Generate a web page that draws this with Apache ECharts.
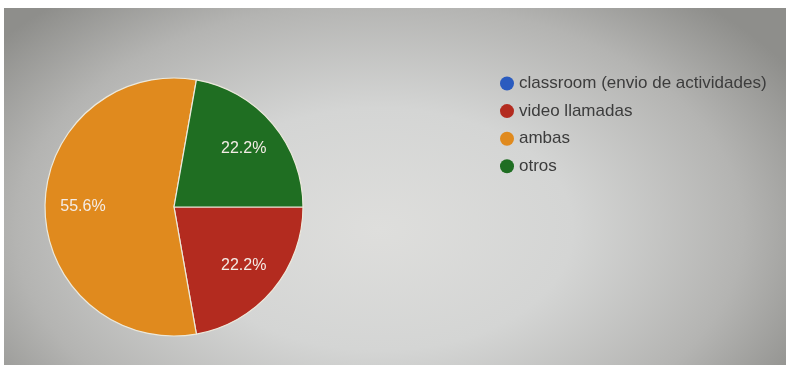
<!DOCTYPE html>
<html>
<head>
<meta charset="utf-8">
<script src="https://cdn.jsdelivr.net/npm/echarts@6/dist/echarts.min.js"></script>
<style>
  html, body { margin: 0; padding: 0; background: #ffffff; }
  #frame {
    position: absolute; left: 4px; top: 8px; width: 782px; height: 357px;
    background:
      radial-gradient(ellipse 62% 85% at 48% 62%, rgba(222,222,220,1) 0%, rgba(212,213,212,1) 40%, rgba(180,180,178,1) 75%, rgba(142,142,139,1) 100%);
  }
  #chart { position: absolute; left: 0; top: 0; width: 790px; height: 368px; }
</style>
</head>
<body>
<div id="frame"></div>
<div id="chart"></div>
<script>
  // Responses per option
  const categories = ['classroom (envio de actividades)', 'video llamadas', 'ambas', 'otros'];
  const counts = [0, 2, 5, 2];
  const colors = ['#2a5bbf', '#b32b1f', '#e08a1e', '#1f6e22'];

  const sliceData = categories.map((name, i) => ({
    name: name,
    value: counts[i],
    itemStyle: { color: colors[i] }
  }));

  const labelData = categories.map((name, i) => ({
    name: name,
    value: counts[i],
    label: { show: counts[i] > 0 }
  }));

  const chart = echarts.init(document.getElementById('chart'), null, { renderer: 'canvas' });
  chart.setOption({
    backgroundColor: 'transparent',
    animation: false,
    legend: {
      orient: 'vertical',
      left: 495,
      top: 70,
      icon: 'circle',
      itemWidth: 14,
      itemHeight: 14,
      itemGap: 10.6,
      selectedMode: false,
      itemStyle: { borderWidth: 0 },
      data: categories.map((name, i) => ({ name: name, itemStyle: { color: colors[i], borderWidth: 0 } })),
      textStyle: {
        fontFamily: 'Liberation Sans, Arial, sans-serif',
        fontSize: 17,
        color: '#3c3c3c',
        lineHeight: 17
      }
    },
    series: [
      {
        type: 'pie',
        center: [174, 207],
        radius: [0, 129],
        startAngle: 0,
        clockwise: true,
        silent: true,
        label: { show: false },
        labelLine: { show: false },
        itemStyle: { borderColor: '#ece9dc', borderWidth: 1.2 },
        data: sliceData
      },
      {
        type: 'pie',
        center: [174, 207],
        radius: [47, 129],
        startAngle: 0,
        clockwise: true,
        silent: true,
        percentPrecision: 1,
        itemStyle: { color: 'rgba(0,0,0,0)' },
        label: {
          position: 'inside',
          formatter: '{d}%',
          fontFamily: 'Liberation Sans, Arial, sans-serif',
          fontSize: 16,
          color: '#f4ece6'
        },
        labelLine: { show: false },
        data: labelData
      }
    ]
  });
</script>
</body>
</html>
